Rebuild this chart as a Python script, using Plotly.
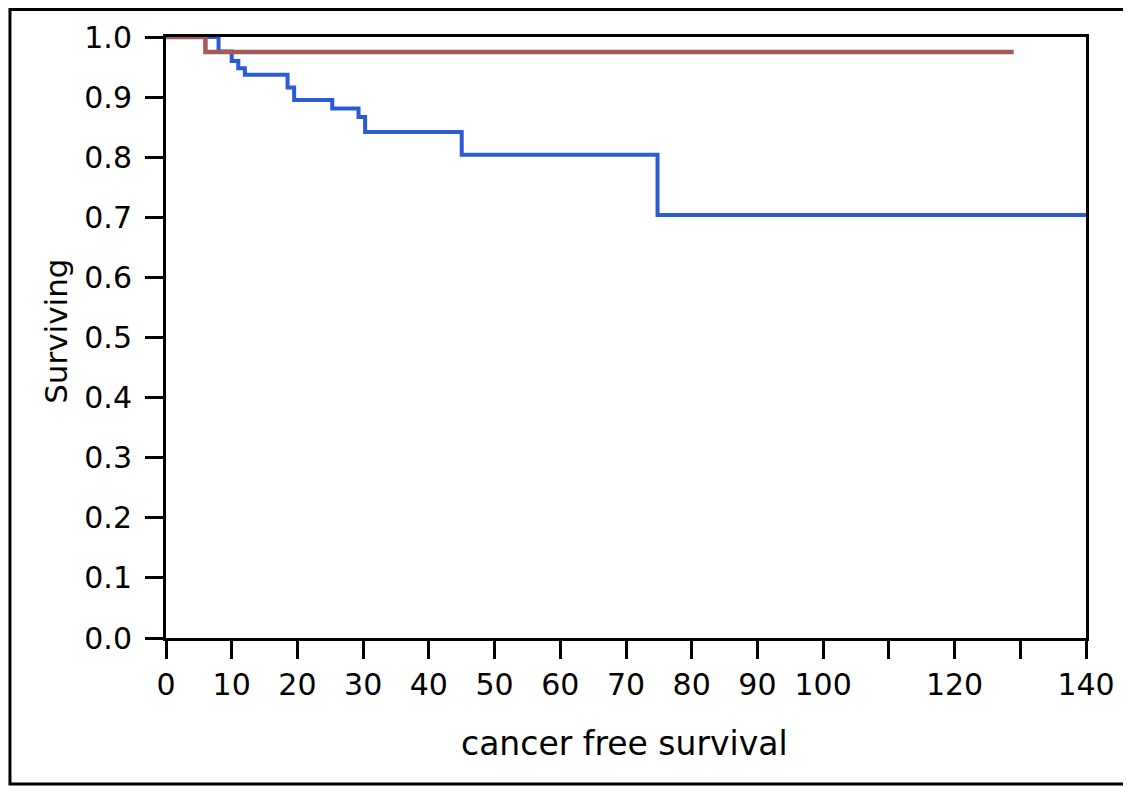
import plotly.graph_objects as go

# Kaplan-Meier step data
blue_time = [0, 8, 10, 11, 12, 18.5, 19.5, 25.3, 29.3, 30.3, 45, 74.8, 140]
blue_surv = [1.0, 0.976, 0.96, 0.948, 0.937, 0.916, 0.895, 0.881, 0.867, 0.842, 0.804, 0.704, 0.704]

red_time = [0, 6, 129]
red_surv = [1.0, 0.975, 0.975]

x_tickvals = [0, 10, 20, 30, 40, 50, 60, 70, 80, 90, 100, 110, 120, 130, 140]
x_ticktext = ["0", "10", "20", "30", "40", "50", "60", "70", "80", "90", "100", "", "120", "", "140"]
y_tickvals = [0.0, 0.1, 0.2, 0.3, 0.4, 0.5, 0.6, 0.7, 0.8, 0.9, 1.0]

FONT = "DejaVu Sans"

fig = go.Figure()
fig.add_trace(go.Scatter(x=blue_time, y=blue_surv, mode="lines", line_shape="hv",
                         line=dict(color="#2a5ad4", width=4), showlegend=False))
fig.add_trace(go.Scatter(x=red_time, y=red_surv, mode="lines", line_shape="hv",
                         line=dict(color="#a45a5a", width=4.5), showlegend=False))

axis_common = dict(showgrid=False, zeroline=False, showline=True, linecolor="black",
                   linewidth=3, mirror=True, ticks="outside", ticklen=18, tickwidth=3,
                   tickcolor="black", tickfont=dict(family=FONT, size=30, color="black"))

fig.update_xaxes(range=[0, 140], tickvals=x_tickvals, ticktext=x_ticktext, **axis_common)
fig.update_yaxes(range=[0, 1], tickvals=y_tickvals, tickformat=".1f",
                 ticklabelstandoff=7, **axis_common)

fig.add_annotation(text="Surviving", xref="paper", yref="paper", x=-0.1196, y=0.511,
                   xanchor="center", yanchor="middle",
                   textangle=-90, showarrow=False, font=dict(family=FONT, size=31, color="black"))
fig.add_annotation(text="cancer free survival", xref="paper", yref="paper", x=0.498, y=-0.176,
                   xanchor="center", yanchor="middle",
                   showarrow=False, font=dict(family=FONT, size=33, color="black"))

# outer frame around the whole chart
fig.add_shape(type="rect", xref="paper", yref="paper", x0=-0.1696, x1=1.0424, y0=-0.243, y1=1.0458,
              line=dict(color="black", width=3))

# page body has an 8px margin: figure sized/offset so the plot area lands where the reference has it
fig.update_layout(width=1123, height=779, paper_bgcolor="white", plot_bgcolor="white",
                  margin=dict(l=158, r=45, t=29, b=149))

fig.write_html("out.html")
